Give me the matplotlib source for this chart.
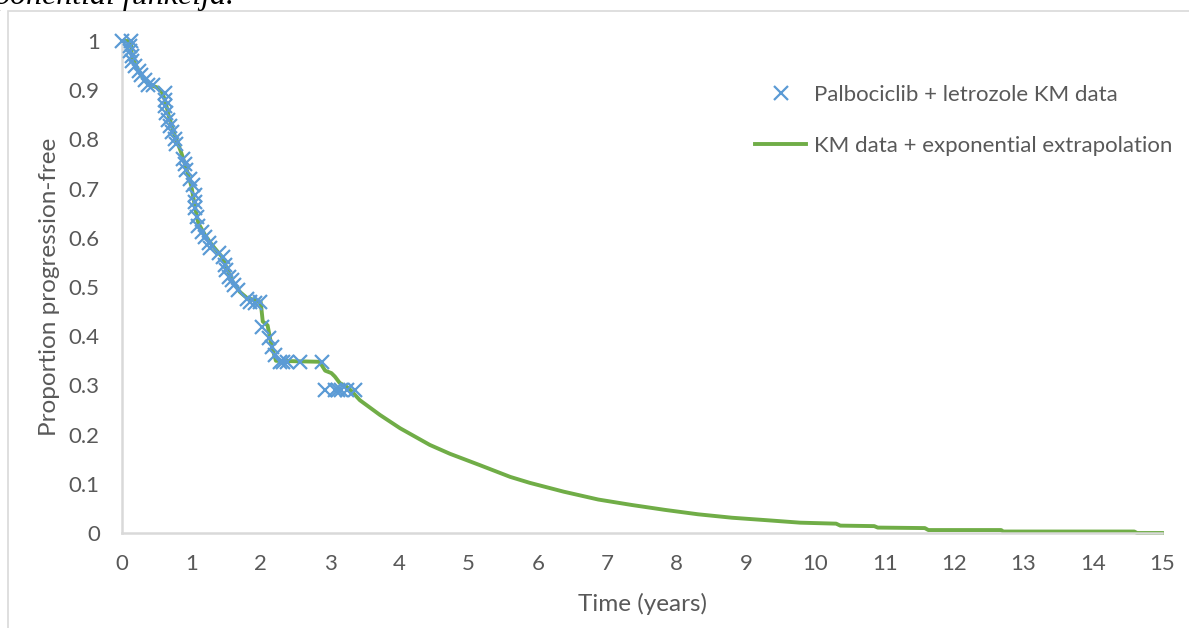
import matplotlib.pyplot as plt
from matplotlib.patches import Rectangle

# KM data points (years, proportion progression-free)
km_time = [0.00, 0.13, 0.12, 0.12, 0.14, 0.14, 0.19, 0.24, 0.28, 0.33, 0.38, 0.45,
           0.62, 0.62, 0.62, 0.64, 0.67, 0.69, 0.72, 0.76, 0.78, 0.88, 0.91, 0.93,
           0.98, 1.03, 1.05, 1.05, 1.06, 1.08, 1.10, 1.15, 1.20, 1.25, 1.27, 1.40,
           1.46, 1.49, 1.50, 1.55, 1.58, 1.61, 1.68, 1.80, 1.85, 1.92, 1.99, 2.02,
           2.12, 2.16, 2.21, 2.28, 2.32, 2.38, 2.57, 2.88, 2.93, 3.07, 3.12, 3.16,
           3.24, 3.36]
km_prop = [1.000, 1.000, 0.990, 0.980, 0.970, 0.960, 0.950, 0.940, 0.930, 0.920, 0.910, 0.910,
           0.894, 0.880, 0.867, 0.854, 0.840, 0.827, 0.815, 0.800, 0.790, 0.760, 0.751, 0.738,
           0.720, 0.707, 0.687, 0.673, 0.660, 0.643, 0.623, 0.612, 0.602, 0.589, 0.579, 0.570,
           0.560, 0.545, 0.535, 0.520, 0.514, 0.504, 0.494, 0.475, 0.470, 0.467, 0.470, 0.419,
           0.396, 0.379, 0.362, 0.348, 0.348, 0.348, 0.348, 0.348, 0.290, 0.290, 0.290, 0.290,
           0.290, 0.290]

# KM data + exponential extrapolation
fit_time = [0.00, 0.13, 0.14, 0.20, 0.30, 0.38, 0.52, 0.58, 0.63, 0.67, 0.75, 0.85,
            0.93, 1.00, 1.05, 1.10, 1.20, 1.30, 1.45, 1.52, 1.60, 1.70, 1.80, 2.00,
            2.03, 2.10, 2.15, 2.22, 2.85, 2.93, 3.02, 3.07, 3.14, 3.24, 3.30, 3.43,
            3.72, 4.01, 4.44, 4.73, 5.16, 5.60, 5.88, 6.37, 6.87, 7.35, 7.83, 8.31,
            8.80, 9.30, 9.78, 10.30, 10.36, 10.85, 10.90, 11.58, 11.63, 12.68, 12.71,
            14.60, 14.64, 15.00]
fit_prop = [1.000, 1.000, 0.970, 0.950, 0.925, 0.912, 0.905, 0.895, 0.875, 0.850, 0.812, 0.775,
            0.740, 0.705, 0.665, 0.630, 0.605, 0.585, 0.560, 0.535, 0.510, 0.490, 0.478, 0.470,
            0.430, 0.422, 0.385, 0.350, 0.348, 0.330, 0.325, 0.318, 0.305, 0.297, 0.290, 0.270,
            0.240, 0.213, 0.179, 0.161, 0.138, 0.114, 0.102, 0.084, 0.068, 0.057, 0.047, 0.038,
            0.031, 0.026, 0.021, 0.019, 0.015, 0.014, 0.011, 0.010, 0.006, 0.006, 0.003,
            0.003, 0.000, 0.000]

x_ticks = list(range(0, 16))
y_ticks = [0, 0.1, 0.2, 0.3, 0.4, 0.5, 0.6, 0.7, 0.8, 0.9, 1]
y_labels = ['0', '0.1', '0.2', '0.3', '0.4', '0.5', '0.6', '0.7', '0.8', '0.9', '1']

plt.rcParams['font.family'] = ['Lato', 'DejaVu Sans']
text_col = '#595959'
grid_col = '#D9D9D9'

fig = plt.figure(figsize=(11.89, 6.28), dpi=100)
ax = fig.add_axes([122 / 1189, 1 - 533 / 628, (1162 - 122) / 1189, (533 - 41) / 628])

# frame around the chart area and the clipped caption above it
fig.patches.append(Rectangle((8 / 1189, -0.1), 1.2, 1 - 11 / 628 + 0.1,
                             transform=fig.transFigure, fill=False,
                             edgecolor=grid_col, lw=1.2))
fig.text(-0.004, 1 - 4 / 628, 'ponential funkcija.', family='Liberation Serif',
         style='italic', fontsize=23, va='baseline', ha='left')

ax.plot(fit_time, fit_prop, color='#70AD47', lw=2.8,
        label='KM data + exponential extrapolation', clip_on=False, zorder=2)
ax.plot(km_time, km_prop, ls='none', marker='x', ms=10, mew=1.6, color='#5B9BD5',
        label='Palbociclib + letrozole KM data', clip_on=False, zorder=3)

ax.set_xlim(0, 15)
ax.set_ylim(0, 1)
ax.set_xticks(x_ticks)
ax.set_yticks(y_ticks)
ax.set_yticklabels(y_labels)
ax.tick_params(length=0, labelsize=16, colors=text_col)
ax.tick_params(axis='x', pad=15)
ax.tick_params(axis='y', pad=16)
for s in ['top', 'right']:
    ax.spines[s].set_visible(False)
for s in ['left', 'bottom']:
    ax.spines[s].set_color(grid_col)
    ax.spines[s].set_linewidth(1.8)
ax.set_xlabel('Time (years)', fontsize=17.5, color=text_col, labelpad=14)
ax.set_ylabel('Proportion progression-free', fontsize=17.5, color=text_col, labelpad=6)

handles, labels = ax.get_legend_handles_labels()
ax.legend(handles[::-1], labels[::-1], loc='upper left', bbox_to_anchor=(755 / 1189, 1 - 85 / 628),
          bbox_transform=fig.transFigure, frameon=False, fontsize=16, labelcolor=text_col,
          handlelength=2.3, handletextpad=0.35, labelspacing=1.4, borderpad=0, borderaxespad=0)

fig.savefig('out.png', dpi=100)
